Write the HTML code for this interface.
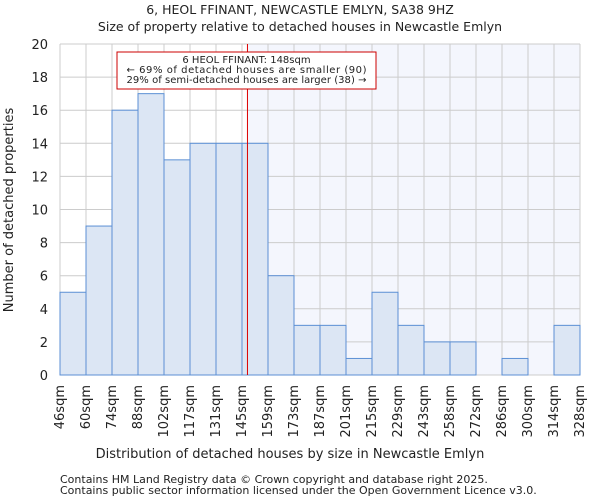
<!DOCTYPE html>
<html><head><meta charset="utf-8"><style>
body{margin:0;background:#fff;font-family:"DejaVu Sans","Liberation Sans",sans-serif}
svg text{font-family:"DejaVu Sans","Liberation Sans",sans-serif;fill:#222}
</style></head><body>
<svg id="c" width="600" height="500"></svg>
<script>
const labels=["46sqm","60sqm","74sqm","88sqm","102sqm","117sqm","131sqm","145sqm","159sqm","173sqm","187sqm","201sqm","215sqm","229sqm","243sqm","258sqm","272sqm","286sqm","300sqm","314sqm","328sqm"];
const counts=[5,9,16,17,13,14,14,14,6,3,3,1,5,3,2,2,0,1,0,3];
const yTicks=[0,2,4,6,8,10,12,14,16,18,20];
const markerIndex=7.21;
const L=60,R=580,T=44,B=375,ymax=20;
const n=counts.length,bw=(R-L)/n;
const X=i=>L+i*bw, Y=v=>B-(v/ymax)*(B-T);
const s=document.getElementById('c');const NS='http://www.w3.org/2000/svg';
function el(t,a,txt){const e=document.createElementNS(NS,t);for(const k in a)e.setAttribute(k,a[k]);if(txt!=null)e.textContent=txt;s.appendChild(e);return e;}
const mx=X(markerIndex);
let e=el('rect',{x:mx,y:T,width:R-mx,height:B-T,fill:'#f4f6fd'});


for(let i=0;i<=n;i++){e=el('line',{x1:X(i),x2:X(i),y1:T,y2:B,stroke:'#cccccc'});

}
yTicks.forEach(v=>{e=el('line',{x1:L,x2:R,y1:Y(v),y2:Y(v),stroke:'#cccccc'});


e=el('text',{x:L-12,y:Y(v)+5,'text-anchor':'end','font-size':13},v);

});
counts.forEach((c,i)=>{if(c<=0)return;e=el('rect',{x:X(i),y:Y(c),width:bw,height:Y(0)-Y(c),fill:'#dce6f4',stroke:'#5b8fd4','stroke-width':1});

});
labels.forEach((l,i)=>{const x=X(i)+4,y=B+10;e=el('text',{x:x,y:y,'text-anchor':'end','font-size':13,transform:`rotate(-90 ${x} ${y})`},l);

});
e=el('line',{x1:mx,x2:mx,y1:T,y2:B,stroke:'#dd0000','stroke-width':1});


e=el('rect',{x:117,y:52,width:259,height:37,fill:'#fff',stroke:'#cc0000','stroke-width':1});


[["6 HEOL FFINANT: 148sqm",62],["← 69% of detached houses are smaller (90)",72],["29% of semi-detached houses are larger (38) →",82]].forEach(a=>{e=el('text',{x:246.5,y:a[1]+1,'text-anchor':'middle','font-size':10,textLength:a[0].length>30?240:0});
e.textContent=a[0];
if(a[0].length<=30)e.removeAttribute('textLength');

});
e=el('text',{x:300,y:14,'text-anchor':'middle','font-size':12.5},"6, HEOL FFINANT, NEWCASTLE EMLYN, SA38 9HZ");


e=el('text',{x:300,y:31,'text-anchor':'middle','font-size':12.5},"Size of property relative to detached houses in Newcastle Emlyn");


e=el('text',{x:290,y:458,'text-anchor':'middle','font-size':13},"Distribution of detached houses by size in Newcastle Emlyn");


e=el('text',{x:13,y:210,'text-anchor':'middle','font-size':13,transform:'rotate(-90 13 210)'},"Number of detached properties");


e=el('text',{x:60,y:483,'font-size':11,fill:'#444'},"Contains HM Land Registry data © Crown copyright and database right 2025.");


e=el('text',{x:60,y:494,'font-size':11,fill:'#444'},"Contains public sector information licensed under the Open Government Licence v3.0.");


</script></body></html>
